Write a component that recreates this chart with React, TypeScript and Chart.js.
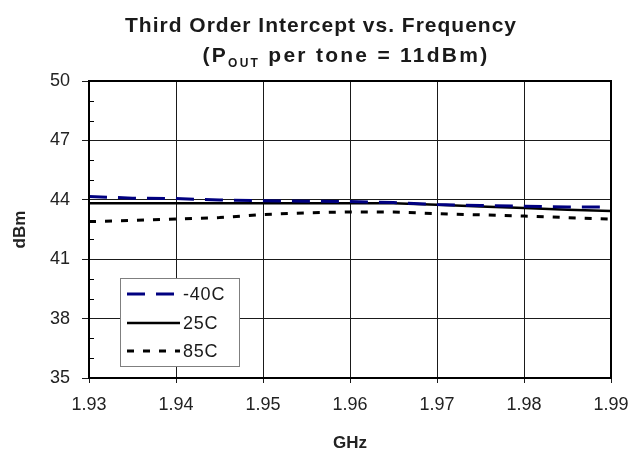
import React, { useEffect, useRef } from 'react';
import { Chart, registerables } from 'chart.js';

Chart.register(...registerables);

const freqGHz = [1.93, 1.935, 1.94, 1.945, 1.95, 1.955, 1.96, 1.965, 1.97, 1.975, 1.98, 1.985, 1.99];
const oipM40C = [44.17, 44.08, 44.06, 43.99, 43.95, 43.93, 43.91, 43.86, 43.76, 43.71, 43.68, 43.64, 43.63];
const oip25C = [43.83, 43.83, 43.83, 43.83, 43.82, 43.82, 43.82, 43.82, 43.75, 43.66, 43.58, 43.5, 43.43];
const oip85C = [42.9, 42.96, 43.03, 43.1, 43.26, 43.34, 43.39, 43.39, 43.3, 43.24, 43.18, 43.1, 43.03];
const seriesLabels = ['-40C', '25C', '85C'];
const xTickValues = [1.93, 1.94, 1.95, 1.96, 1.97, 1.98, 1.99];
const yTickValues = [35, 38, 41, 44, 47, 50];
const yMinorTickValues = [36, 37, 39, 40, 42, 43, 45, 46, 48, 49];
const titleLine1 = 'Third Order Intercept vs. Frequency';
const titleLine2Parts = ['(P', 'OUT', ' per tone = 11dBm)'];
const xAxisTitle = 'GHz';
const yAxisTitle = 'dBm';

const FONT = '"Liberation Sans", Arial, sans-serif';

const seriesStyles = [
  { color: '#000080', width: 3, dash: [18, 11] },
  { color: '#000000', width: 2.5, dash: [] as number[] },
  { color: '#000000', width: 3, dash: [7, 9] },
];

const decorPlugin = {
  id: 'decor',
  afterDraw(chart: any) {
    const ctx = chart.ctx as CanvasRenderingContext2D;
    const area = chart.chartArea;
    const yScale = chart.scales.y;

    // minor ticks (inside)
    ctx.save();
    ctx.strokeStyle = '#000';
    ctx.lineWidth = 1;
    yMinorTickValues.forEach((v) => {
      const py = Math.round(yScale.getPixelForValue(v)) + 0.5;
      ctx.beginPath();
      ctx.moveTo(area.left, py);
      ctx.lineTo(area.left + 5, py);
      ctx.stroke();
    });
    // frame
    ctx.lineWidth = 2;
    ctx.strokeRect(area.left, area.top, area.right - area.left, area.bottom - area.top);
    ctx.restore();

    // title
    ctx.save();
    ctx.fillStyle = '#1a1a1a';
    ctx.textBaseline = 'alphabetic';
    ctx.textAlign = 'left';
    const big = `bold 21px ${FONT}`;
    const small = `bold 12px ${FONT}`;
    const fitDraw = (parts: { t: string; font: string; dy: number }[], target: number, cx: number, baseY: number) => {
      (ctx as any).letterSpacing = '0px';
      let w0 = 0;
      let n = 0;
      parts.forEach((p) => {
        ctx.font = p.font;
        w0 += ctx.measureText(p.t).width;
        n += p.t.length;
      });
      const ls = Math.max(0, (target - w0) / n);
      (ctx as any).letterSpacing = `${ls}px`;
      let x = cx - (w0 + ls * n) / 2;
      parts.forEach((p) => {
        ctx.font = p.font;
        ctx.fillText(p.t, x, baseY + p.dy);
        x += ctx.measureText(p.t).width;
      });
    };
    fitDraw([{ t: titleLine1, font: big, dy: 0 }], 392, 321, 32);
    fitDraw(
      [
        { t: titleLine2Parts[0], font: big, dy: 0 },
        { t: titleLine2Parts[1], font: small, dy: 5 },
        { t: titleLine2Parts[2], font: big, dy: 0 },
      ],
      287,
      346,
      62
    );
    ctx.restore();

    // legend
    ctx.save();
    const lx = area.left + 31;
    const ly = area.top + 197;
    const lw = 119;
    const lh = 88;
    ctx.fillStyle = '#fff';
    ctx.fillRect(lx, ly, lw, lh);
    ctx.strokeStyle = '#7f7f7f';
    ctx.lineWidth = 1;
    ctx.strokeRect(lx + 0.5, ly + 0.5, lw, lh);
    const rows = [16, 45, 73];
    seriesLabels.forEach((label, i) => {
      const st = seriesStyles[i];
      const ry = ly + rows[i];
      ctx.strokeStyle = st.color;
      ctx.lineWidth = st.width;
      ctx.setLineDash(st.dash);
      ctx.beginPath();
      ctx.moveTo(lx + 7, ry);
      ctx.lineTo(lx + 60, ry);
      ctx.stroke();
      ctx.setLineDash([]);
      ctx.fillStyle = '#1a1a1a';
      ctx.font = `18px ${FONT}`;
      (ctx as any).letterSpacing = '0.8px';
      ctx.textBaseline = 'middle';
      ctx.textAlign = 'left';
      ctx.fillText(label, lx + 63, ry + 1);
    });
    ctx.restore();
  },
};

export default function App() {
  const canvasRef = useRef<HTMLCanvasElement | null>(null);

  useEffect(() => {
    document.body.style.margin = '0';
    const canvas = canvasRef.current;
    if (!canvas) return;
    const makeData = (vals: number[]) => freqGHz.map((f, i) => ({ x: f, y: vals[i] }));
    const allVals = [oipM40C, oip25C, oip85C];
    const chart = new Chart(canvas, {
      type: 'line',
      data: {
        datasets: allVals.map((vals, i) => ({
          label: seriesLabels[i],
          data: makeData(vals),
          borderColor: seriesStyles[i].color,
          borderWidth: seriesStyles[i].width,
          borderDash: seriesStyles[i].dash,
          pointRadius: 0,
          fill: false,
          tension: 0,
        })),
      },
      options: {
        responsive: false,
        animation: false,
        devicePixelRatio: 1,
        layout: { padding: { left: 0, right: 21, top: 81, bottom: 0 } },
        plugins: {
          legend: { display: false },
          title: { display: false },
          tooltip: { enabled: false },
        },
        scales: {
          x: {
            type: 'linear',
            min: 1.93,
            max: 1.99,
            afterBuildTicks: (s: any) => {
              s.ticks = xTickValues.map((v) => ({ value: v }));
            },
            afterFit: (s: any) => {
              s.height = 76;
              s.paddingLeft = 0;
              s.paddingRight = 0;
            },
            ticks: {
              color: '#222',
              font: { family: FONT, size: 18 },
              padding: 11,
              maxRotation: 0,
              autoSkip: false,
              callback: (v: any) => Number(v).toFixed(2),
            },
            grid: { color: '#1a1a1a', lineWidth: 1, tickLength: 5, drawTicks: true },
            border: { color: '#000', width: 2 },
            title: {
              display: true,
              text: xAxisTitle,
              color: '#222',
              font: { family: FONT, size: 17, weight: 'bold' },
              padding: { top: 0, bottom: 0 },
            },
          },
          y: {
            type: 'linear',
            min: 35,
            max: 50,
            afterBuildTicks: (s: any) => {
              s.ticks = yTickValues.map((v) => ({ value: v }));
            },
            afterFit: (s: any) => {
              s.width = 89;
              s.paddingTop = 0;
              s.paddingBottom = 0;
            },
            ticks: {
              color: '#222',
              font: { family: FONT, size: 18 },
              padding: 12,
              autoSkip: false,
            },
            grid: { color: '#1a1a1a', lineWidth: 1, tickLength: 7, drawTicks: true },
            border: { color: '#000', width: 2 },
            title: {
              display: true,
              text: yAxisTitle,
              color: '#222',
              font: { family: FONT, size: 17, weight: 'bold' },
              padding: { top: 10, bottom: 0 },
            },
          },
        },
      } as any,
      plugins: [decorPlugin],
    });
    return () => chart.destroy();
  }, []);

  return (
    <canvas
      ref={canvasRef}
      width={632}
      height={454}
      style={{ display: 'block', width: 632, height: 454 }}
    />
  );
}
